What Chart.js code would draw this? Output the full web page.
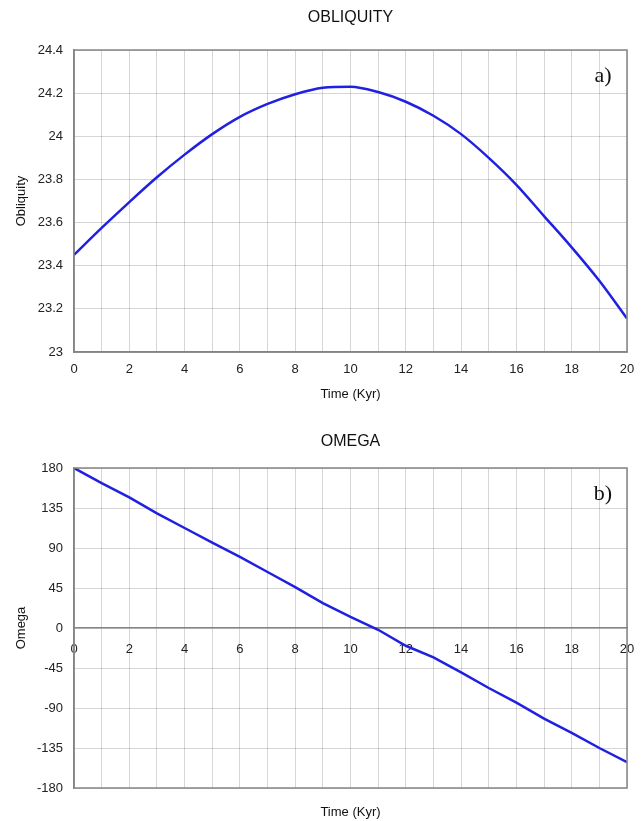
<!DOCTYPE html>
<html>
<head>
<meta charset="utf-8">
<script src="https://cdn.jsdelivr.net/npm/chart.js@4.4.1/dist/chart.umd.min.js"></script>
<style>
  html, body { margin: 0; padding: 0; background: #ffffff; }
  #wrap { position: relative; width: 642px; height: 821px; }
  .box { position: absolute; left: 0; width: 642px; }
</style>
</head>
<body>
<div id="wrap">
  <div class="box" style="top:0;height:410px"><canvas id="c1" width="642" height="410"></canvas></div>
  <div class="box" style="top:410px;height:411px"><canvas id="c2" width="642" height="411"></canvas></div>
</div>
<script>
// ---- data ----
const timeKyr = [0, 1, 2, 3, 4, 5, 6, 7, 8, 9, 10, 11, 12, 13, 14, 15, 16, 17, 18, 19, 20];
const obliquity = [23.45, 23.575, 23.695, 23.81, 23.915, 24.01, 24.09, 24.15, 24.195, 24.225, 24.23,
                   24.205, 24.16, 24.095, 24.01, 23.90, 23.775, 23.63, 23.485, 23.33, 23.155];
const omega = [180, 163, 147, 129, 112.5, 96, 80, 63, 46, 28, 12.5,
               -2, -20, -33, -50, -67.5, -84, -102, -118, -135, -151];
const timeTickLabels = [0, 2, 4, 6, 8, 10, 12, 14, 16, 18, 20];
const obliquityTicks = [23, 23.2, 23.4, 23.6, 23.8, 24, 24.2, 24.4];
const omegaTicks = [-180, -135, -90, -45, 0, 45, 90, 135, 180];

const FONT = "'Liberation Sans', Arial, sans-serif";
const GRID = 'rgba(0,0,0,0.16)';
const FRAME = '#858585';
const LINE = '#2020e0';

const framePlugin = {
  id: 'frame',
  afterDraw(chart) {
    const { ctx, chartArea: a } = chart;
    ctx.save();
    ctx.strokeStyle = FRAME;
    ctx.lineWidth = 1.5;
    ctx.strokeRect(a.left, a.top, a.right - a.left, a.bottom - a.top);
    ctx.restore();
  }
};
const panelLabel = {
  id: 'panelLabel',
  afterDraw(chart, args, opts) {
    const { ctx, chartArea: a } = chart;
    ctx.save();
    ctx.font = "22px 'Liberation Serif', 'Times New Roman', serif";
    ctx.fillStyle = '#111';
    ctx.textAlign = 'center';
    ctx.textBaseline = 'middle';
    ctx.fillText(opts.text, a.right - 24, a.top + 26);
    ctx.restore();
  }
};

function xScale(labelPad, extra) {
  return Object.assign({
    type: 'linear', min: 0, max: 20,
    afterBuildTicks: s => { s.ticks = timeKyr.map(v => ({ value: v })); },
    ticks: {
      autoSkip: false, maxRotation: 0, padding: labelPad, color: '#222',
      font: { size: 13, family: FONT },
      callback: v => timeTickLabels.includes(v) ? String(v) : ''
    },
    grid: { color: GRID, drawTicks: false, lineWidth: 1 },
    border: { display: true, color: FRAME, width: 1.5 }
  }, extra);
}
function yScale(min, max, ticksArr, title) {
  return {
    type: 'linear', min: min, max: max,
    afterBuildTicks: s => { s.ticks = ticksArr.map(v => ({ value: v })); },
    afterFit: s => { s.width = 74; },
    ticks: { padding: 11, color: '#222', font: { size: 13, family: FONT }, callback: v => String(v) },
    grid: { color: GRID, drawTicks: false, lineWidth: 1 },
    border: { display: true, color: FRAME, width: 1.5 },
    title: { display: true, text: title, color: '#111', font: { size: 13, family: FONT }, padding: { top: 14, bottom: 0 } }
  };
}

new Chart(document.getElementById('c1'), {
  type: 'line',
  data: {
    datasets: [{
      data: timeKyr.map((t, i) => ({ x: t, y: obliquity[i] })),
      borderColor: LINE, borderWidth: 2.5, pointRadius: 0,
      cubicInterpolationMode: 'monotone', fill: false
    }]
  },
  options: {
    responsive: false, animation: false, devicePixelRatio: 1,
    layout: { padding: { left: 0, right: 15, top: 0, bottom: 0 } },
    plugins: {
      legend: { display: false }, tooltip: { enabled: false },
      title: { display: true, text: 'OBLIQUITY', fullSize: false, color: '#111',
               font: { size: 16, weight: 'normal', family: FONT }, padding: { top: 8, bottom: 22.8 } },
      panelLabel: { text: 'a)' }
    },
    scales: {
      x: xScale(10, {
        afterFit: s => { s.height = 58; s.paddingRight = 7; s.paddingLeft = 4; },
        title: { display: true, text: 'Time (Kyr)', color: '#111', font: { size: 13, family: FONT }, padding: { top: 0, bottom: 8 } }
      }),
      y: yScale(23, 24.4, obliquityTicks, 'Obliquity')
    }
  },
  plugins: [framePlugin, panelLabel]
});

new Chart(document.getElementById('c2'), {
  type: 'line',
  data: {
    datasets: [{
      data: timeKyr.map((t, i) => ({ x: t, y: omega[i] })),
      borderColor: LINE, borderWidth: 2.5, pointRadius: 0, tension: 0, fill: false
    }]
  },
  options: {
    responsive: false, animation: false, devicePixelRatio: 1,
    layout: { padding: { left: 0, right: 15, top: 0, bottom: 0 } },
    plugins: {
      legend: { display: false }, tooltip: { enabled: false },
      title: { display: true, text: 'OMEGA', fullSize: false, color: '#111',
               font: { size: 16, weight: 'normal', family: FONT }, padding: { top: 22, bottom: 16.8 } },
      subtitle: { display: true, position: 'bottom', text: 'Time (Kyr)', fullSize: false, color: '#111',
                  font: { size: 13, family: FONT }, padding: { top: 16.4, bottom: 1 } },
      panelLabel: { text: 'b)' }
    },
    scales: {
      x: xScale(14, { position: { y: 0 }, afterFit: s => { s.paddingRight = 7; s.paddingLeft = 4; } }),
      y: yScale(-180, 180, omegaTicks, 'Omega')
    }
  },
  plugins: [framePlugin, panelLabel]
});
</script>
</body>
</html>
